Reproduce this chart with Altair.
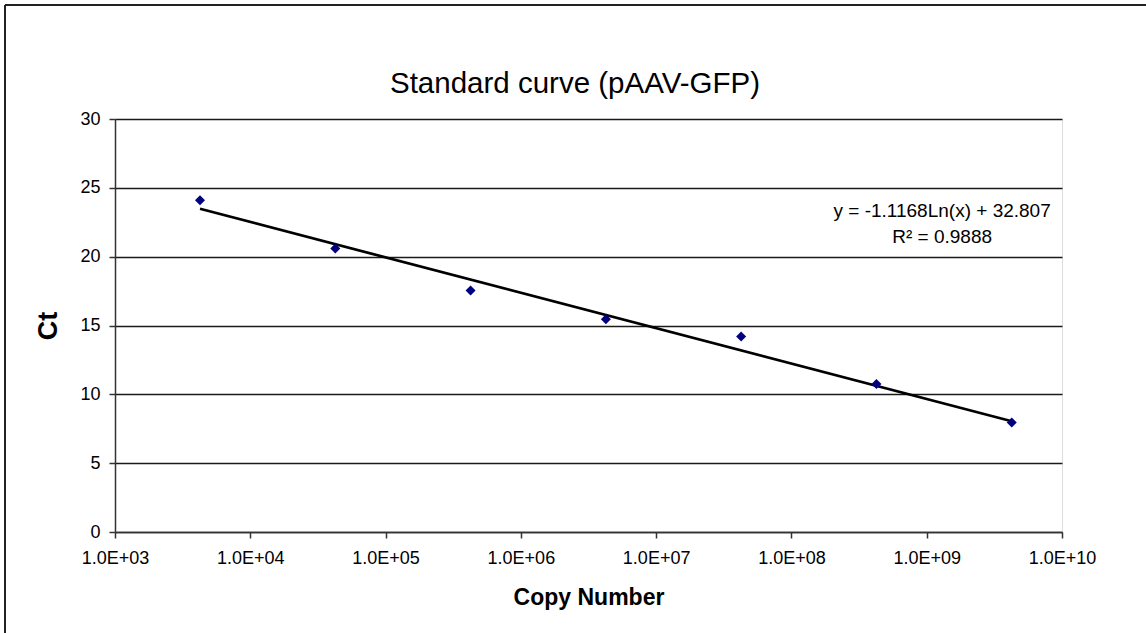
import altair as alt
import pandas as pd

# Standard dilution series: copy number vs threshold cycle
copies = [4.25e3, 4.25e4, 4.25e5, 4.25e6, 4.25e7, 4.25e8, 4.25e9]
ct = [24.1, 20.6, 17.55, 15.45, 14.2, 10.75, 7.95]

# Logarithmic trendline y = slope * ln(x) + intercept
slope = -1.1168
intercept = 32.807
r_squared = 0.9888

x_ticks = [1e3, 1e4, 1e5, 1e6, 1e7, 1e8, 1e9, 1e10]
y_ticks = [0, 5, 10, 15, 20, 25, 30]

FONT = "Liberation Sans"
W, H = 947, 413
LEFT, TOP = 115, 119

points = pd.DataFrame({"copies": copies, "ct": ct})
fit = pd.DataFrame({"copies": [copies[0], copies[-1]]})
label = pd.DataFrame({
    "copies": [1.3e9],
    "ct": [23.35],
    "text": [[f"y = {slope}Ln(x) + {intercept}", f"R\u00b2 = {r_squared}"]],
})
heading = pd.DataFrame({"text": ["Standard curve (pAAV-GFP)"]})

x_scale = alt.Scale(type="log", domain=[1e3, 1e10], nice=False)
y_scale = alt.Scale(domain=[0, 30], nice=False, zero=True)

exp_expr = "round(log(datum.value) / LN10)"
x_axis = alt.Axis(
    values=x_ticks,
    labelExpr=f"'1.0E+' + ({exp_expr} < 10 ? '0' : '') + {exp_expr}",
    title="Copy Number",
    titleFont=FONT, titleFontSize=23, titleFontWeight="bold", titleColor="black",
    titleY=65, titleBaseline="middle",
    labelFont=FONT, labelFontSize=18, labelColor="black", labelPadding=11,
    tickSize=6, tickColor="#333333", tickWidth=1.5,
    domainColor="#333333", domainWidth=1.5,
    grid=False, labelFlush=False, labelOverlap=False,
)
y_axis = alt.Axis(
    values=y_ticks,
    title="Ct",
    titleFont=FONT, titleFontSize=27, titleFontWeight="bold", titleColor="black",
    titleAngle=270, titleX=-67, titleY=H / 2, titleAlign="center", titleBaseline="middle",
    labelFont=FONT, labelFontSize=18, labelColor="black", labelPadding=9,
    tickSize=6, tickColor="#333333", tickWidth=1.5,
    domainColor="#333333", domainWidth=1.5,
    grid=True, gridColor="#1a1a1a", gridWidth=1.3, gridOpacity=1,
)

x_enc = alt.X("copies:Q", scale=x_scale, axis=x_axis)
y_enc = alt.Y("ct:Q", scale=y_scale, axis=y_axis)

dots = alt.Chart(points).mark_point(
    shape="diamond", filled=True, size=100, color="#000080", opacity=1
).encode(x=x_enc, y=y_enc)

trend = alt.Chart(fit).transform_calculate(
    ct=f"{slope} * log(datum.copies) + {intercept}"
).mark_line(color="black", strokeWidth=2.7).encode(
    x=alt.X("copies:Q", scale=x_scale),
    y=alt.Y("ct:Q", scale=y_scale),
)

equation = alt.Chart(label).mark_text(
    font=FONT, fontSize=19, color="black", align="center", baseline="middle", lineHeight=26
).encode(
    x=alt.X("copies:Q", scale=x_scale),
    y=alt.Y("ct:Q", scale=y_scale),
    text="text",
)

# Chart title, centred over the plot
title = alt.Chart(heading).mark_text(
    font=FONT, fontSize=29.5, color="black", align="center", baseline="middle"
).encode(x=alt.value(575 - LEFT), y=alt.value(84 - TOP), text="text")

# Chart frame (left and top edges)
frame_left = alt.Chart(points).mark_rule(color="#222222", strokeWidth=2).encode(
    x=alt.value(5 - LEFT), y=alt.value(5 - TOP), y2=alt.value(633 - TOP + 10)
)
frame_top = alt.Chart(points).mark_rule(color="#222222", strokeWidth=2).encode(
    x=alt.value(5 - LEFT), x2=alt.value(1146 - LEFT + 10), y=alt.value(5 - TOP)
)

chart = alt.layer(frame_left, frame_top, trend, dots, equation, title).properties(
    width=W,
    height=H,
    autosize=alt.AutoSizeParams(type="none"),
    padding={"left": LEFT, "top": TOP, "right": 1146 - LEFT - W, "bottom": 633 - TOP - H},
).configure_view(stroke=None).configure(background="white")

chart.save("out.html", embed_options={"renderer": "svg", "actions": False})
